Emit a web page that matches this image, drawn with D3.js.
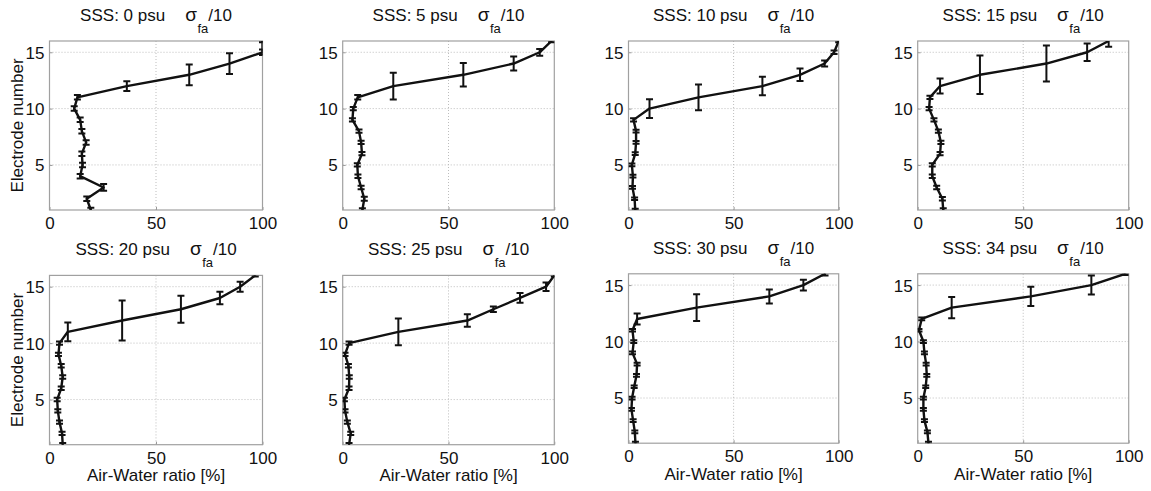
<!DOCTYPE html>
<html>
<head>
<meta charset="utf-8">
<script src="https://cdn.jsdelivr.net/npm/d3@7"></script>
<style>
  html, body { margin: 0; padding: 0; background: #fff; }
  svg { display: block; }
  text { font-family: "Liberation Sans", Arial, sans-serif; fill: #111; }
</style>
</head>
<body>
<svg id="chart" width="1151" height="491"></svg>
<script>
// Electrode positions along the probe (y axis)
const electrodes = [1, 2, 3, 4, 5, 6, 7, 8, 9, 10, 11, 12, 13, 14, 15, 16];

// Sea surface salinity of each panel
const salinity = [0, 5, 10, 15, 20, 25, 30, 34];

// Air-water ratio [%] per electrode, one array per salinity
const ratio0  = [19.4, 17.5, 25.4, 14.4, 15.5, 15.2, 17.2, 15.2, 14.4, 11.6, 13.1, 36.3, 65.6, 84.5, 100, 100];
const ratio5  = [9.3, 10.2, 8.7, 7.2, 6.9, 9.1, 8.7, 7.7, 4.6, 5.0, 7.1, 23.9, 57.0, 80.8, 93.1, 98.7];
const ratio10 = [3.2, 2.9, 1.9, 2.1, 1.6, 3.2, 3.6, 3.6, 2.4, 10.0, 33.3, 63.7, 81.6, 93.3, 97.8, 100];
const ratio15 = [12.1, 11.7, 9.0, 6.9, 6.9, 10.6, 11.0, 9.8, 7.7, 5.4, 5.8, 10.6, 29.5, 61.0, 80.3, 90.5];
const ratio20 = [6.2, 5.9, 4.7, 3.9, 3.6, 5.5, 6.2, 5.5, 4.2, 4.7, 8.6, 34.1, 61.7, 80.0, 89.5, 96.6];
const ratio25 = [3.0, 3.8, 2.2, 1.1, 0.8, 3.0, 3.1, 2.7, 1.1, 3.0, 26.3, 58.9, 71.2, 83.8, 96.1, 100];
const ratio30 = [3.3, 3.0, 2.2, 1.4, 1.7, 2.7, 3.8, 4.1, 1.9, 2.5, 1.9, 4.1, 32.4, 67.0, 83.2, 93.5];
const ratio34 = [5.1, 4.6, 3.2, 2.7, 2.7, 3.8, 4.3, 4.0, 3.2, 2.7, 0.6, 1.9, 16.1, 53.6, 82.3, 98.4];

// Standard deviation sigma_fa / 10, in electrode units (vertical error bars)
const err0  = [0.2, 0.2, 0.3, 0.2, 0.2, 0.2, 0.2, 0.2, 0.2, 0.2, 0.2, 0.43, 0.92, 0.92, 0.25, 0.1];
const err5  = [0.15, 0.18, 0.15, 0.15, 0.15, 0.15, 0.15, 0.15, 0.15, 0.15, 0.2, 1.19, 1.04, 0.62, 0.3, 0.1];
const err10 = [0.12, 0.12, 0.12, 0.12, 0.12, 0.12, 0.12, 0.12, 0.15, 0.83, 1.14, 0.82, 0.55, 0.27, 0.15, 0.1];
const err15 = [0.15, 0.15, 0.15, 0.15, 0.15, 0.15, 0.15, 0.15, 0.15, 0.15, 0.15, 0.67, 1.71, 1.59, 0.77, 0.5];
const err20 = [0.15, 0.15, 0.15, 0.15, 0.15, 0.15, 0.15, 0.15, 0.15, 0.15, 0.83, 1.77, 1.2, 0.55, 0.44, 0.1];
const err25 = [0.15, 0.15, 0.15, 0.15, 0.15, 0.15, 0.15, 0.15, 0.15, 0.15, 1.18, 0.55, 0.25, 0.43, 0.38, 0.1];
const err30 = [0.12, 0.12, 0.12, 0.12, 0.12, 0.12, 0.12, 0.12, 0.12, 0.12, 0.12, 0.49, 1.18, 0.62, 0.47, 0.15];
const err34 = [0.12, 0.12, 0.12, 0.12, 0.12, 0.12, 0.12, 0.12, 0.12, 0.12, 0.12, 0.12, 0.94, 0.86, 0.84, 0.1];

const ratios = [ratio0, ratio5, ratio10, ratio15, ratio20, ratio25, ratio30, ratio34];
const errors = [err0, err5, err10, err15, err20, err25, err30, err34];

// Axis ticks
const xTicks = [0, 50, 100];
const yTicks = [5, 10, 15];

const xLabel = "Air-Water ratio [%]";
const yLabel = "Electrode number";

// Panel geometry (px)
const colLeft  = [49.5, 342.7, 628.5, 917.7];
const colRight = [262.5, 554.3, 838.7, 1128.7];
const rowTop    = [[41, 41, 41, 41], [275.4, 275.4, 273.8, 273.8]];
const rowBottom = [[210, 210, 210, 210], [444.7, 444.7, 443.2, 443.2]];

const svg = d3.select("#chart");
const defs = svg.append("defs");

salinity.forEach((s, i) => {
  const row = Math.floor(i / 4), col = i % 4;
  const x0 = colLeft[col], x1 = colRight[col];
  const y0 = rowTop[row][col], y1 = rowBottom[row][col];

  const x = d3.scaleLinear().domain([0, 100]).range([x0, x1]);
  const y = d3.scaleLinear().domain([1, 16]).range([y1, y0]);

  const g = svg.append("g");

  // dotted grid
  g.append("g").selectAll("line").data(xTicks.slice(1, -1)).join("line")
    .attr("x1", d => x(d)).attr("x2", d => x(d)).attr("y1", y0).attr("y2", y1)
    .attr("stroke", "#bdbdbd").attr("stroke-width", 1).attr("stroke-dasharray", "1,2");
  g.append("g").selectAll("line").data(yTicks).join("line")
    .attr("x1", x0).attr("x2", x1).attr("y1", d => y(d)).attr("y2", d => y(d))
    .attr("stroke", "#bdbdbd").attr("stroke-width", 1).attr("stroke-dasharray", "1,2");

  // axes (ticks pointing inward, labels outside)
  const xAxis = g.append("g").attr("transform", `translate(0,${y1})`)
    .call(d3.axisBottom(x).tickValues(xTicks).tickSize(-3).tickPadding(7));
  const yAxis = g.append("g").attr("transform", `translate(${x0},0)`)
    .call(d3.axisLeft(y).tickValues(yTicks).tickSize(-3).tickPadding(6));
  [xAxis, yAxis].forEach(a => {
    a.select(".domain").remove();
    a.selectAll(".tick line").attr("stroke", "#999");
    a.selectAll(".tick text").attr("font-size", 17).attr("fill", "#111")
      .style("font-family", '"Liberation Sans", Arial, sans-serif');
  });
  xAxis.selectAll(".tick text").attr("dy", null).attr("y", 19);
  yAxis.selectAll(".tick text").attr("dy", "0.35em").attr("x", -5);

  // frame
  g.append("rect").attr("x", x0).attr("y", y0).attr("width", x1 - x0).attr("height", y1 - y0)
    .attr("fill", "none").attr("stroke", "#a0a0a0").attr("stroke-width", 1.2);

  // data, clipped to plot area
  const clipId = "clip" + i;
  defs.append("clipPath").attr("id", clipId).append("rect")
    .attr("x", x0).attr("y", y0).attr("width", x1 - x0).attr("height", y1 - y0);
  const pg = g.append("g").attr("clip-path", `url(#${clipId})`);

  const pts = electrodes.map((e, k) => ({ e, v: ratios[i][k], s: errors[i][k] }));

  pg.append("path").datum(pts)
    .attr("d", d3.line().x(d => x(d.v)).y(d => y(d.e)))
    .attr("fill", "none").attr("stroke", "#111").attr("stroke-width", 2.4)
    .attr("stroke-linejoin", "round");

  const eb = pg.append("g").attr("stroke", "#111").attr("stroke-width", 2);
  eb.selectAll("line.bar").data(pts).join("line").attr("class", "bar")
    .attr("x1", d => x(d.v)).attr("x2", d => x(d.v))
    .attr("y1", d => y(d.e - d.s)).attr("y2", d => y(d.e + d.s));
  eb.selectAll("line.capLo").data(pts).join("line").attr("class", "capLo")
    .attr("x1", d => x(d.v) - 3.5).attr("x2", d => x(d.v) + 3.5)
    .attr("y1", d => y(d.e - d.s)).attr("y2", d => y(d.e - d.s));
  eb.selectAll("line.capHi").data(pts).join("line").attr("class", "capHi")
    .attr("x1", d => x(d.v) - 3.5).attr("x2", d => x(d.v) + 3.5)
    .attr("y1", d => y(d.e + d.s)).attr("y2", d => y(d.e + d.s));

  // title: SSS: n psu   σ_fa/10
  const t = g.append("text").attr("x", (x0 + x1) / 2).attr("y", y0 - 20)
    .attr("text-anchor", "middle").attr("font-size", 17);
  t.append("tspan").text(`SSS: ${s} psu`);
  t.append("tspan").attr("dx", 20).attr("font-size", 19).text("σ");
  t.append("tspan").attr("dx", 0.5).attr("dy", 12).attr("font-size", 13).text("fa");
  t.append("tspan").attr("dy", -12).text("/10");

  // axis labels
  if (row === 1) {
    g.append("text").attr("x", (x0 + x1) / 2).attr("y", y1 + 36.5)
      .attr("text-anchor", "middle").attr("font-size", 17).text(xLabel);
  }
  if (col === 0) {
    g.append("text").attr("transform", `translate(23,${(y0 + y1) / 2}) rotate(-90)`)
      .attr("text-anchor", "middle").attr("font-size", 17).text(yLabel);
  }
});
</script>
</body>
</html>
